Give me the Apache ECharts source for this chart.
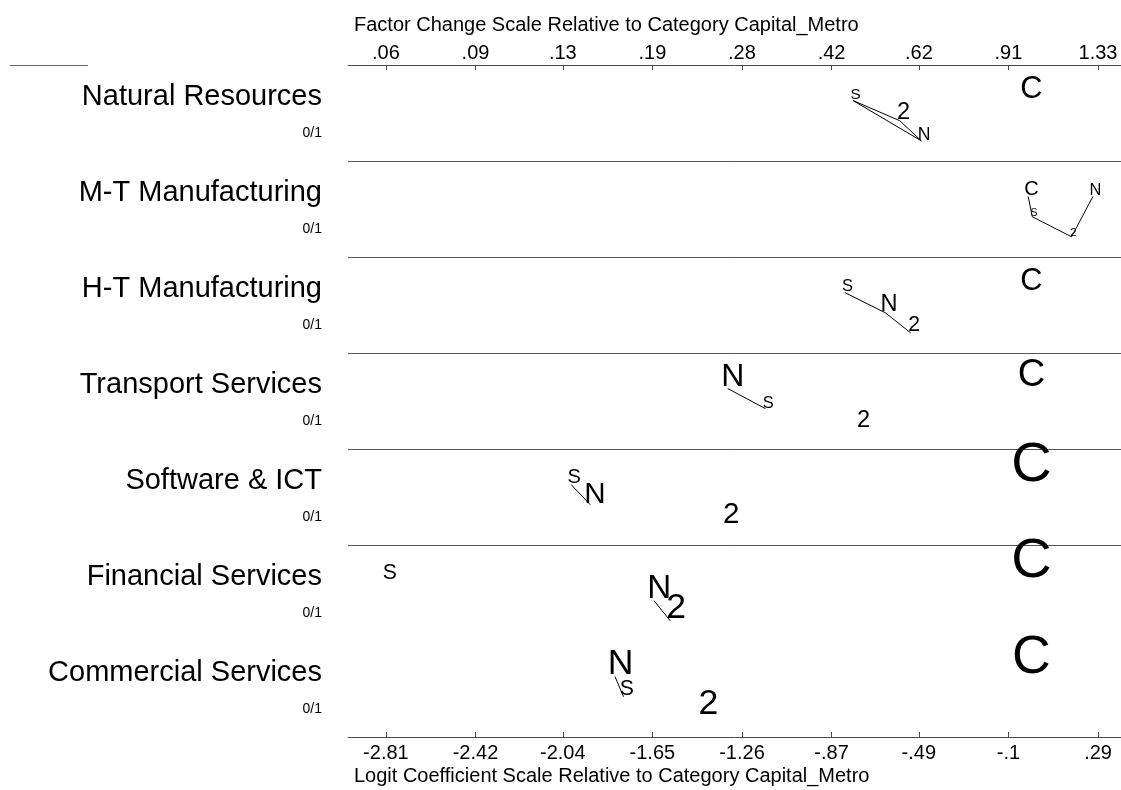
<!DOCTYPE html>
<html>
<head>
<meta charset="utf-8">
<script src="https://cdn.jsdelivr.net/npm/echarts@6/dist/echarts.min.js"></script>
<style>
  html, body { margin: 0; padding: 0; background: #fff; }
  #chart { width: 1121px; height: 790px; }
</style>
</head>
<body>
<div id="chart"></div>
<script>
// Independent variables (one panel each) and their value range label
const categories = ['Natural Resources', 'M-T Manufacturing', 'H-T Manufacturing',
  'Transport Services', 'Software & ICT', 'Financial Services', 'Commercial Services'];
const rangeLabels = ['0/1', '0/1', '0/1', '0/1', '0/1', '0/1', '0/1'];

// Outcome letters; C = Capital_Metro is the base outcome (coefficient 0)
const outcomes = ['C', 'N', '2', 'S'];

// Logit coefficients relative to Capital_Metro, in category order
const coefN = [-0.467, 0.279, -0.620, -1.300, -1.900, -1.620, -1.788];
const coef2 = [-0.557, 0.183, -0.511, -0.731, -1.307, -1.547, -1.406];
const coefS = [-0.766, 0.011, -0.801, -1.146, -1.990, -2.793, -1.761];

// Magnitude of the discrete change for each outcome (sets letter size)
const dcC = [0.19, 0.10, 0.19, 0.25, 0.40, 0.40, 0.38];
const dcN = [0.08, 0.07, 0.13, 0.20, 0.18, 0.21, 0.23];
const dc2 = [0.13, 0.03, 0.11, 0.13, 0.18, 0.23, 0.23];
const dcS = [0.06, 0.02, 0.07, 0.07, 0.10, 0.11, 0.11];

// Outcome pairs whose contrast is not significant, joined by a line
const linkedPairs = [
  [['S', '2'], ['S', 'N'], ['2', 'N']],
  [['C', 'S'], ['S', '2'], ['2', 'N']],
  [['S', 'N'], ['N', '2']],
  [['N', 'S']],
  [['S', 'N']],
  [['N', '2']],
  [['N', 'S']]
];

// Axis ticks: logit scale (bottom) and factor change scale (top)
const logitTicks = [-2.81, -2.42, -2.04, -1.65, -1.26, -0.87, -0.49, -0.1, 0.29];
const logitTickLabels = ['-2.81', '-2.42', '-2.04', '-1.65', '-1.26', '-.87', '-.49', '-.1', '.29'];
const factorTickLabels = ['.06', '.09', '.13', '.19', '.28', '.42', '.62', '.91', '1.33'];

const FONT = 'Liberation Sans, Arial, Helvetica, sans-serif';
const X_MIN = -2.975, X_MAX = 0.39;
const letterSize = dc => 8 + 120 * dc;
const levelOffset = lvl => 0.37 + 0.21 * lvl;

// Build letter records per panel; vertical level cycles with the rank along x
const coefByOutcome = { C: categories.map(() => 0), N: coefN, '2': coef2, S: coefS };
const dcByOutcome = { C: dcC, N: dcN, '2': dc2, S: dcS };
const panels = categories.map((cat, i) => {
  const items = outcomes.map(o => ({ letter: o, coef: coefByOutcome[o][i], size: letterSize(dcByOutcome[o][i]) }));
  items.slice().sort((a, b) => a.coef - b.coef).forEach((it, r) => { it.level = r % 3; });
  const byLetter = {};
  items.forEach(it => { byLetter[it.letter] = it; });
  return { items, byLetter };
});

const letterData = [];
panels.forEach((p, i) => p.items.forEach(it => {
  letterData.push([it.coef, i + levelOffset(it.level), it.size, it.letter]);
}));

const linkData = [];
linkedPairs.forEach((pairs, i) => pairs.forEach(([a, b]) => {
  const A = panels[i].byLetter[a], B = panels[i].byLetter[b];
  linkData.push([A.coef, i + levelOffset(A.level), A.size, B.coef, i + levelOffset(B.level), B.size]);
}));

const separatorData = [1, 2, 3, 4, 5];
const panelData = categories.map((c, i) => [i]);

function tickFormatter(labels) {
  return v => {
    const k = logitTicks.findIndex(t => Math.abs(t - v) < 1e-6);
    return k >= 0 ? labels[k] : '';
  };
}

const axisLineStyle = { color: '#4a4a4a', width: 1 };

const chart = echarts.init(document.getElementById('chart'), null, { renderer: 'canvas' });
chart.setOption({
  backgroundColor: '#ffffff',
  animation: false,
  title: [
    { text: 'Factor Change Scale Relative to Category Capital_Metro', left: 354, top: 15, padding: 0,
      textStyle: { fontSize: 20, fontWeight: 'normal', color: '#000', fontFamily: FONT } },
    { text: 'Logit Coefficient Scale Relative to Category Capital_Metro', left: 354, top: 766, padding: 0,
      textStyle: { fontSize: 20, fontWeight: 'normal', color: '#000', fontFamily: FONT } }
  ],
  graphic: [
    { type: 'line', shape: { x1: 10, y1: 65.5, x2: 88, y2: 65.5 }, style: { stroke: '#666', lineWidth: 1 } }
  ],
  grid: { left: 348, right: 0, top: 65, bottom: 53, containLabel: false },
  xAxis: [
    {
      type: 'value', position: 'bottom', min: X_MIN, max: X_MAX,
      axisLine: { show: true, onZero: false, lineStyle: axisLineStyle },
      axisTick: { show: true, inside: true, length: 5, customValues: logitTicks, lineStyle: axisLineStyle },
      axisLabel: { customValues: logitTicks, formatter: tickFormatter(logitTickLabels), fontSize: 20,
        color: '#000', fontFamily: FONT, margin: 6 },
      splitLine: { show: false }
    },
    {
      type: 'value', position: 'top', min: X_MIN, max: X_MAX,
      axisLine: { show: true, onZero: false, lineStyle: axisLineStyle },
      axisTick: { show: true, inside: true, length: 5, customValues: logitTicks, lineStyle: axisLineStyle },
      axisLabel: { customValues: logitTicks, formatter: tickFormatter(factorTickLabels), fontSize: 20,
        color: '#000', fontFamily: FONT, margin: 2 },
      splitLine: { show: false }
    }
  ],
  yAxis: { type: 'value', min: 0, max: 7, inverse: true, show: false },
  series: [
    {
      // panel separators
      type: 'custom', clip: false, silent: true, data: separatorData,
      renderItem: (params, api) => {
        const y = api.value(0);
        const a = api.coord([X_MIN, y]), b = api.coord([X_MAX, y]);
        return { type: 'line', shape: { x1: a[0], y1: Math.round(a[1]) + 0.5, x2: b[0], y2: Math.round(b[1]) + 0.5 },
          style: { stroke: '#555', lineWidth: 1 } };
      }
    },
    {
      // variable names and value ranges
      type: 'custom', clip: false, silent: true, data: panelData,
      renderItem: (params, api) => {
        const i = api.value(0);
        const top = api.coord([X_MIN, i]);
        const x = top[0] - 26;
        const nameBase = api.coord([X_MIN, i + 0.434])[1];
        const rangeBase = api.coord([X_MIN, i + 0.764])[1];
        return { type: 'group', children: [
          { type: 'text', x: x, y: nameBase - 0.3465 * 29,
            style: { text: categories[i], fontSize: 29, fontFamily: FONT, fill: '#000', align: 'right', verticalAlign: 'middle' } },
          { type: 'text', x: x, y: rangeBase - 0.3465 * 14,
            style: { text: rangeLabels[i], fontSize: 14, fontFamily: FONT, fill: '#000', align: 'right', verticalAlign: 'middle' } }
        ] };
      }
    },
    {
      // connecting lines for non-significant contrasts
      type: 'custom', clip: false, silent: true, data: linkData,
      renderItem: (params, api) => {
        const a = api.coord([api.value(0), api.value(1)]);
        const b = api.coord([api.value(3), api.value(4)]);
        const sa = api.value(2), sb = api.value(5);
        return { type: 'line', shape: { x1: a[0] - 0.16 * sa, y1: a[1], x2: b[0] - 0.16 * sb, y2: b[1] },
          style: { stroke: '#000', lineWidth: 1 } };
      }
    },
    {
      // outcome letters
      type: 'custom', clip: false, silent: true, data: letterData,
      dimensions: ['coef', 'pos', 'size', 'letter'],
      renderItem: (params, api) => {
        const p = api.coord([api.value(0), api.value(1)]);
        const fs = api.value(2);
        return { type: 'text', x: p[0], y: p[1] - 0.3465 * fs,
          style: { text: String(api.value(3)), fontSize: fs, fontFamily: FONT, fill: '#000',
            align: 'center', verticalAlign: 'middle' } };
      }
    }
  ]
});
</script>
</body>
</html>
